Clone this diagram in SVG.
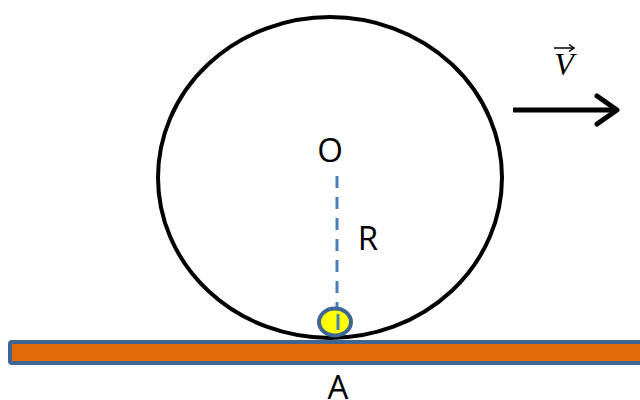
<svg xmlns="http://www.w3.org/2000/svg" width="640" height="400" viewBox="0 0 640 400">
<style>
.lbl{font-family:"Open Sans","DejaVu Sans",sans-serif;font-size:33px;fill:#000;text-anchor:middle}
</style>
<rect width="640" height="400" fill="#fff"/>
<g id="ground"><rect x="10" y="342" width="640" height="21" rx="2" fill="#e36c0a" stroke="#3e6594" stroke-width="4"/></g>
<g id="wheel"><ellipse cx="330" cy="177.5" rx="172" ry="160.5" fill="none" stroke="#000" stroke-width="4"/></g>
<g id="connectors">
<line x1="337" y1="176" x2="337" y2="312" stroke="#4a7ebb" stroke-width="3" stroke-dasharray="12,9"/>
<g id="velocity"><line x1="513" y1="110" x2="616" y2="110" stroke="#000" stroke-width="5"/><polyline points="597,96 617,110 597,124" fill="none" stroke="#000" stroke-width="5" stroke-linecap="round" stroke-linejoin="round"/></g>
</g>
<g id="point"><ellipse cx="335" cy="322" rx="16" ry="13.5" fill="#ffff00" stroke="#3e6594" stroke-width="4"/><line x1="338" y1="314" x2="338" y2="330" stroke="#4a7ebb" stroke-width="3"/></g>
<text class="lbl" x="330" y="162">O</text>
<text class="lbl" x="368" y="250">R</text>
<text class="lbl" x="338" y="399">A</text>
<g id="vlabel"><text x="564" y="75" font-family="Liberation Serif,serif" font-style="italic" font-size="32" text-anchor="middle">V</text>
<line x1="554" y1="48" x2="573" y2="48" stroke="#000" stroke-width="1.5"/><polyline points="569,44.5 574,48 569,51.5" fill="none" stroke="#000" stroke-width="1.5"/></g>
</svg>
